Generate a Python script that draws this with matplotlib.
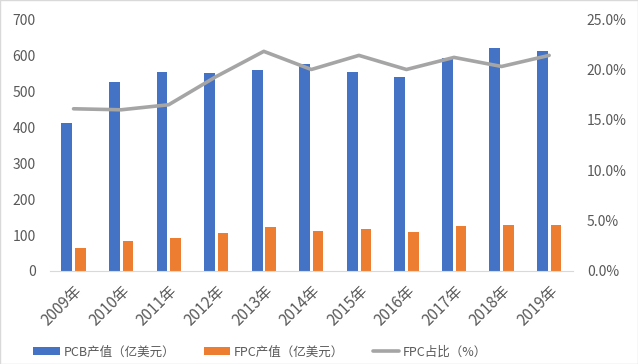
import numpy as np
import matplotlib
matplotlib.use("Agg")
import matplotlib.pyplot as plt
from matplotlib.patches import Rectangle
from matplotlib.ticker import FuncFormatter

plt.rcParams['font.family'] = ['Noto Sans CJK SC', 'DejaVu Sans']

years = ['2009年', '2010年', '2011年', '2012年', '2013年', '2014年',
         '2015年', '2016年', '2017年', '2018年', '2019年']
pcb = [410, 524, 553, 549, 559, 574, 553, 540, 591, 620, 611]
fpc = [65, 84, 91, 106, 121, 112, 117, 108, 124, 127, 129]
fpc_share = [16.1, 16.0, 16.5, 19.3, 21.8, 20.0, 21.4, 20.0, 21.2, 20.3, 21.4]

TXT = '#595959'

fig = plt.figure(figsize=(6.38, 3.64), dpi=100)
ax = fig.add_axes([0.078, 0.2555, 0.82, 0.692])
ax2 = ax.twinx()

x = np.arange(len(years))
ax.bar(x - 0.14, pcb, width=0.23, color='#4472C4', label='PCB产值（亿美元）', zorder=2)
ax.bar(x + 0.145, fpc, width=0.22, color='#ED7D31', label='FPC产值（亿美元）', zorder=2)
ax2.plot(x, fpc_share, color='#A5A5A5', lw=2.6, label='FPC占比（%）',
         solid_capstyle='round', solid_joinstyle='round')

ax.set_xlim(-0.5, len(years) - 0.5)
ax.set_ylim(0, 700)
ax.set_yticks(range(0, 701, 100))
ax2.set_ylim(0, 25)
ax2.set_yticks(np.arange(0, 25.1, 5))
ax2.yaxis.set_major_formatter(FuncFormatter(lambda v, p: f'{v:.1f}%'))

ax.set_xticks(x)
ax.set_xticklabels(years, rotation=45, ha='right', rotation_mode='anchor')

for a in (ax, ax2):
    for s in a.spines.values():
        s.set_visible(False)
    a.tick_params(length=0, labelsize=10, colors=TXT)
ax.spines['bottom'].set_visible(True)
ax.spines['bottom'].set_color('#D9D9D9')
ax.tick_params(axis='y', pad=10)
ax.tick_params(axis='x', pad=8, labelsize=11)
ax2.tick_params(axis='y', pad=10)

h1, l1 = ax.get_legend_handles_labels()
h2, l2 = ax2.get_legend_handles_labels()
fig.legend(h1 + h2, l1 + l2, loc='center', bbox_to_anchor=(0.408, 0.033), ncol=3,
           frameon=False, fontsize=9, labelcolor=TXT, handlelength=2.1,
           handleheight=0.6, columnspacing=2.3, handletextpad=0.3)

fig.patches.append(Rectangle((0, 0), 1, 1, transform=fig.transFigure,
                             fill=False, edgecolor='#D9D9D9', lw=1))

fig.savefig('out.png', dpi=100)
